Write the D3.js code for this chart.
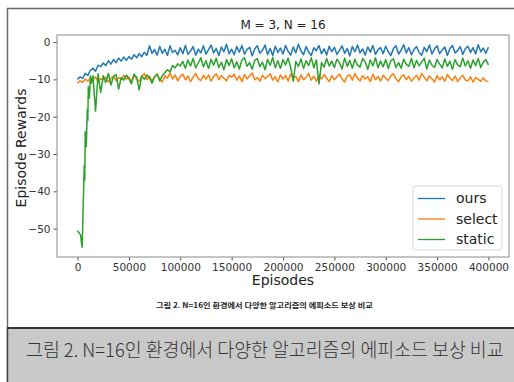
<!DOCTYPE html>
<html>
<head>
<meta charset="utf-8">
<script src="https://cdn.jsdelivr.net/npm/d3@7"></script>
<style>
  html, body { margin: 0; padding: 0; background: #fff; }
  svg { display: block; font-family: "DejaVu Sans", sans-serif; }
</style>
</head>
<body>
<div id="chart"></div>
<script>
// episodes sampled every 2500 for ours / select
const episodes = d3.range(0, 400001, 2500);

const oursRewards = [
  -10.0, -9.3, -9.7, -8.4, -8.9, -7.6, -7.0, -7.8, -6.2, -6.6,
  -5.6, -6.3, -5.0, -5.9, -4.7, -5.5, -4.3, -5.1, -4.0, -4.9,
  -3.9, -4.6, -3.4, -4.2, -3.1, -3.9, -2.7, -3.6, -1.0, -3.0,
  -2.0, -3.5, -1.2, -3.0, -1.9, -3.6, -1.0, -2.8, -2.2, -3.4,
  -1.5, -3.1, -0.9, -3.3, -2.4, -1.2, -3.5, -1.9, -2.9, -1.0,
  -3.2, -2.0, -0.8, -2.9, -1.7, -3.6, -1.3, -2.6, -0.6, -3.1,
  -1.9, -3.4, -1.2, -2.7, -0.9, -3.2, -2.0, -1.4, -3.7, -1.8,
  -1.0, -3.0, -2.2, -0.8, -3.3, -1.7, -3.6, -1.1, -2.8, -1.6,
  -3.2, -0.9, -2.5, -3.5, -1.3, -2.9, -0.6, -2.4, -3.4, -1.2,
  -2.7, -3.6, -1.5, -2.3, -0.9, -3.1, -1.8, -3.5, -1.1, -2.6,
  -1.4, -3.3, -2.2, -1.0, -3.0, -1.7, -3.7, -1.2, -2.6, -0.8,
  -2.9, -1.8, -3.5, -1.3, -2.7, -0.9, -3.3, -2.0, -1.5, -3.1,
  -1.1, -2.6, -3.6, -1.7, -1.0, -3.2, -2.2, -0.7, -2.9, -1.5,
  -3.4, -2.0, -1.2, -2.8, -3.5, -1.4, -2.6, -0.8, -3.2, -1.8,
  -1.0, -3.1, -2.1, -1.3, -3.6, -1.7, -0.9, -2.9, -2.3, -1.2,
  -3.3, -1.8, -1.1, -2.8, -1.5, -3.2, -0.7, -2.6, -1.6, -3.0, -1.4
];

const selectRewards = [
  -11.0, -10.4, -10.8, -9.9, -10.5, -9.6, -10.2, -9.3, -10.6, -9.8,
  -10.1, -9.4, -10.7, -9.7, -9.2, -10.3, -9.5, -10.0, -8.9, -9.9,
  -9.4, -10.6, -8.8, -9.9, -10.5, -9.2, -8.4, -10.1, -9.1, -10.4,
  -9.3, -8.5, -10.0, -10.7, -9.0, -9.7, -8.3, -9.9, -8.8, -10.4,
  -9.2, -8.6, -10.1, -9.1, -10.6, -9.4, -8.4, -9.8, -10.3, -8.9,
  -9.9, -8.8, -10.5, -9.2, -8.5, -10.1, -9.0, -9.7, -10.4, -8.9,
  -9.4, -8.6, -10.2, -9.1, -10.6, -8.7, -9.9, -9.0, -8.3, -10.1,
  -9.5, -10.5, -8.9, -9.8, -9.2, -8.5, -10.2, -9.3, -10.7, -8.8,
  -9.9, -9.0, -10.4, -8.6, -9.7, -9.2, -10.6, -8.8, -10.1, -9.4,
  -8.4, -10.2, -9.1, -10.5, -8.9, -9.9, -8.7, -9.7, -10.6, -9.0,
  -10.1, -9.3, -8.6, -9.9, -10.7, -9.1, -8.8, -10.2, -8.4, -9.7,
  -10.4, -9.0, -9.9, -9.3, -10.6, -8.6, -10.1, -9.2, -10.5, -8.9,
  -9.7, -10.3, -9.0, -8.5, -9.9, -10.6, -9.3, -8.8, -10.1, -9.2,
  -10.5, -9.6, -8.9, -10.2, -8.4, -9.4, -10.4, -9.1, -9.8, -10.7,
  -9.0, -10.1, -9.3, -10.5, -8.7, -9.7, -10.3, -9.1, -10.6, -9.6,
  -8.9, -10.2, -10.4, -9.3, -10.7, -9.5, -10.0, -10.5, -9.6, -10.4, -10.6
];

// static: denser samples over the first 15000 episodes, then every 2500
const staticEarlyEpisodes = [0, 1000, 2000, 3000, 4000, 4500, 5500, 6500, 7000, 7500, 8500, 9500, 10000, 10500, 11500, 12500, 13500];
const staticEpisodes = staticEarlyEpisodes.concat(d3.range(15000, 400001, 2500));

const staticRewards = [
  -50.5, -51.0, -51.3, -51.8, -54.2, -55.0, -44.0, -33.0, -37.0, -24.0, -28.0, -18.0, -21.0, -12.0, -15.0, -9.0, -11.0,
  -9.0, -18.5, -8.5, -13.5,
  -9.0, -10.8, -8.4, -11.5, -9.2, -8.7, -12.6, -9.5, -10.2, -8.9,
  -9.8, -11.2, -8.6, -9.4, -12.8, -9.1, -10.0, -8.8, -9.6, -11.0,
  -9.3, -8.7, -10.4, -9.0, -8.2,
  -7.4, -8.0, -6.3, -6.9, -5.8, -6.4,
  -5.2, -7.0, -4.8, -6.4, -4.4, -6.9, -5.6, -4.2, -6.6,
  -5.0, -7.1, -4.6, -6.2, -4.3, -6.8, -5.4, -7.4, -4.7, -6.3,
  -4.5, -6.9, -5.3, -7.2, -4.8, -4.2, -6.5, -5.5, -7.3, -4.9,
  -4.4, -6.6, -5.4, -7.4, -4.6, -6.2, -4.1, -6.9, -5.0, -7.0,
  -4.7, -6.1, -4.3, -6.8, -10.5, -5.2, -6.5, -4.5, -7.1, -5.0,
  -6.3, -4.2, -6.9, -4.8, -11.2, -5.5, -6.7, -4.4, -6.4, -5.1,
  -6.8, -4.6, -5.5, -7.2, -4.3, -6.5, -4.9, -7.0, -4.6, -6.2,
  -6.7, -4.4, -5.3, -7.3, -4.8, -6.4, -4.2, -6.9, -5.1, -6.6,
  -4.7, -7.1, -5.0, -4.5, -6.8, -5.5, -7.0, -4.6, -5.9, -6.5,
  -4.4, -6.9, -4.9, -6.4, -5.3, -4.3, -7.2, -4.8, -6.2, -6.8,
  -4.6, -5.9, -6.9, -4.5, -6.5, -5.1, -7.3, -4.7, -6.1, -6.6,
  -4.3, -6.4, -5.0, -7.0, -4.8, -6.3, -4.4, -6.8, -5.3, -4.7, -6.1
];

const xTicks = [0, 50000, 100000, 150000, 200000, 250000, 300000, 350000, 400000];
const yTicks = [0, -10, -20, -30, -40, -50];

const seriesNames = ['ours', 'select', 'static'];
const seriesColors = ['#1f77b4', '#ff7f0e', '#2ca02c'];

const chartTitle = 'M = 3, N = 16';
const xLabel = 'Episodes';
const yLabel = 'Episode Rewards';
const smallCaption = '그림 2. N=16인 환경에서 다양한 알고리즘의 에피소드 보상 비교';
const bigCaption = '그림 2. N=16인 환경에서 다양한 알고리즘의 에피소드 보상 비교';

const width = 514, height = 382;
const margin = { top: 35, right: 5, bottom: 125, left: 57 };
const plotW = width - margin.left - margin.right;
const plotH = height - margin.top - margin.bottom;

const svg = d3.select('#chart').append('svg')
  .attr('width', width)
  .attr('height', height);

// outer page frame
svg.append('path')
  .attr('d', `M7.5,${height} V8.5 H${width}`)
  .attr('fill', 'none')
  .attr('stroke', '#6a6a6a')
  .attr('stroke-width', 1.5);

// grey caption band
svg.append('rect')
  .attr('x', 7.5).attr('y', 328)
  .attr('width', width - 7.5).attr('height', height - 328)
  .attr('fill', '#c9c9c9');
svg.append('line')
  .attr('x1', 7).attr('x2', width)
  .attr('y1', 328).attr('y2', 328)
  .attr('stroke', '#333').attr('stroke-width', 2);
svg.append('line')
  .attr('x1', 7.5).attr('x2', 7.5)
  .attr('y1', 328).attr('y2', height)
  .attr('stroke', '#444').attr('stroke-width', 1.5);

// squeeze a caption horizontally so it spans the given width
function fitText(sel, x0, y0, w) {
  const natural = sel.node().getComputedTextLength();
  sel.attr('transform', `translate(${x0},${y0}) scale(${w / natural},1)`);
}

const big = svg.append('text')
  .style('font-family', '"Noto Sans CJK KR", sans-serif')
  .style('font-weight', 300)
  .style('font-size', '19px')
  .attr('fill', '#333')
  .text(bigCaption);
fitText(big, 26, 357, 478);

const small = svg.append('text')
  .style('font-family', '"Noto Sans CJK KR", sans-serif')
  .style('font-weight', 700)
  .style('font-size', '7px')
  .attr('fill', '#222')
  .text(smallCaption);
fitText(small, 156, 308, 217);

const g = svg.append('g')
  .attr('transform', `translate(${margin.left},${margin.top})`);

const x = d3.scaleLinear()
  .domain([-20000, 420000])
  .range([0, plotW]);

const y = d3.scaleLinear()
  .domain([-57.6, 1.9])
  .range([plotH, 0]);

const xAxis = g.append('g')
  .attr('transform', `translate(0,${plotH})`)
  .call(d3.axisBottom(x).tickValues(xTicks).tickFormat(d3.format('d')).tickSize(3.5).tickPadding(3));

const yAxis = g.append('g')
  .call(d3.axisLeft(y).tickValues(yTicks).tickFormat(d => d < 0 ? '\u2212' + Math.abs(d) : d).tickSize(3.5).tickPadding(3));

[xAxis, yAxis].forEach(a => {
  a.select('.domain').remove();
  a.selectAll('.tick line').attr('stroke', '#555');
  a.selectAll('.tick text')
    .attr('fill', '#333')
    .style('font-family', '"DejaVu Sans", sans-serif')
    .style('font-size', '10.5px');
});

const line = d3.line()
  .x(d => x(d[0]))
  .y(d => y(d[1]));

const seriesData = [
  d3.zip(episodes, oursRewards),
  d3.zip(episodes, selectRewards),
  d3.zip(staticEpisodes, staticRewards)
];

// draw order like matplotlib: ours, select, static
g.selectAll('.series')
  .data(seriesData)
  .join('path')
    .attr('class', 'series')
    .attr('fill', 'none')
    .attr('stroke', (d, i) => seriesColors[i])
    .attr('stroke-width', 1.5)
    .attr('stroke-linejoin', 'round')
    .attr('d', line);

// plot frame
g.append('rect')
  .attr('width', plotW).attr('height', plotH)
  .attr('fill', 'none')
  .attr('stroke', '#8a8a8a')
  .attr('stroke-width', 1);

// title & axis labels
g.append('text')
  .attr('x', plotW / 2).attr('y', -6)
  .attr('text-anchor', 'middle')
  .style('font-size', '12px')
  .attr('fill', '#222')
  .text(chartTitle);

g.append('text')
  .attr('x', plotW / 2).attr('y', plotH + 28)
  .attr('text-anchor', 'middle')
  .style('font-size', '14px')
  .attr('fill', '#222')
  .text(xLabel);

g.append('text')
  .attr('transform', `translate(${26 - margin.left},${plotH / 2 + 2}) rotate(-90)`)
  .attr('text-anchor', 'middle')
  .style('font-size', '14px')
  .attr('fill', '#222')
  .text(yLabel);

// legend
const legend = svg.append('g')
  .attr('transform', 'translate(413,186)');

legend.append('rect')
  .attr('width', 89).attr('height', 64)
  .attr('rx', 2)
  .attr('fill', '#fff')
  .attr('fill-opacity', 0.8)
  .attr('stroke', '#d8d8d8');

const item = legend.selectAll('.item')
  .data(seriesNames)
  .join('g')
    .attr('class', 'item')
    .attr('transform', (d, i) => `translate(0,${12.5 + i * 20.5})`);

item.append('line')
  .attr('x1', 5).attr('x2', 32)
  .attr('stroke', (d, i) => seriesColors[i])
  .attr('stroke-width', 1.3);

item.append('text')
  .attr('x', 43).attr('dy', '0.35em')
  .style('font-size', '14px')
  .attr('fill', '#222')
  .text(d => d);
</script>
</body>
</html>
